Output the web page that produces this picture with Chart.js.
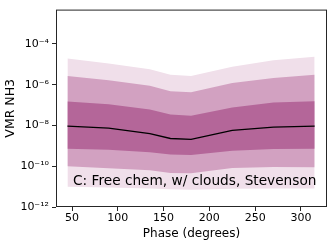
<!DOCTYPE html>
<html>
<head>
<meta charset="utf-8">
<script src="https://cdn.jsdelivr.net/npm/chart.js@4"></script>
<style>
  html, body { margin: 0; padding: 0; background: #fff; }
  #wrap { width: 332px; height: 243px; }
</style>
</head>
<body>
<div id="wrap"><canvas id="grafico"></canvas></div>
<script>
// fases (grados)
const phases = [45, 90, 135, 157.5, 180, 225, 270, 315];

// log10 del VMR
const median   = [-8.03, -8.13, -8.40, -8.64, -8.68, -8.24, -8.08, -8.03];
const in1Up    = [-6.83, -6.96, -7.22, -7.47, -7.52, -7.12, -6.88, -6.82];
const in1Low   = [-9.14, -9.19, -9.31, -9.43, -9.45, -9.24, -9.16, -9.14];
const mid2Up   = [-5.57, -5.79, -6.06, -6.32, -6.37, -5.92, -5.68, -5.52];
const mid2Low  = [-10.00, -10.10, -10.20, -10.33, -10.34, -10.09, -10.04, -10.05];
const out3Up   = [-4.72, -4.96, -5.25, -5.52, -5.57, -5.12, -4.80, -4.63];
const out3Low  = [-11.01, -11.04, -11.09, -11.13, -11.16, -11.11, -11.09, -11.09];

const yTicks = [-12, -10, -8, -6, -4];
const xTicks = [50, 100, 150, 200, 250, 300];
const label = 'C: Free chem, w/ clouds, Stevenson';

const FONT = 'DejaVu Sans';
const sup = { '-': '\u207B', '0': '\u2070', '1': '\u00B9', '2': '\u00B2', '3': '\u00B3', '4': '\u2074',
              '5': '\u2075', '6': '\u2076', '7': '\u2077', '8': '\u2078', '9': '\u2079' };

function pts(arr) {
    return phases.map((p, i) => ({ x: p, y: Math.pow(10, arr[i]) }));
}

function serie(arr, extra) {
    return Object.assign({
        data: pts(arr),
        borderWidth: 0,
        pointRadius: 0,
        tension: 0,
        fill: false
    }, extra);
}

// marco y texto
const marco = {
    id: 'marco',
    afterDraw(chart) {
        const a = chart.chartArea;
        const ctx = chart.ctx;
        ctx.save();
        ctx.strokeStyle = '#262626';
        ctx.lineWidth = 1;
        ctx.strokeRect(a.left + 0.5, a.top + 0.5, a.right - a.left - 1, a.bottom - a.top - 1);
        ctx.fillStyle = '#000';
        ctx.font = '13.7px "' + FONT + '"';
        ctx.textBaseline = 'alphabetic';
        ctx.fillText(label, a.left + 17, a.bottom - 22);
        ctx.restore();
    }
};

new Chart(document.getElementById('grafico'), {
    type: 'line',
    data: {
        datasets: [
            serie(median, { borderColor: '#000', borderWidth: 1.3 }),
            serie(in1Up, { fill: 2, backgroundColor: '#b46699' }),
            serie(in1Low),
            serie(mid2Up, { fill: 4, backgroundColor: '#d2a1c1' }),
            serie(mid2Low),
            serie(out3Up, { fill: 6, backgroundColor: '#f0dfea' }),
            serie(out3Low)
        ]
    },
    plugins: [marco],
    options: {
        responsive: true,
        maintainAspectRatio: false,
        animation: false,
        layout: { padding: { top: 5, right: 5, left: 0, bottom: 0 } },
        plugins: { legend: { display: false }, tooltip: { enabled: false } },
        scales: {
            x: {
                type: 'linear',
                min: 32.5,
                max: 328.5,
                afterBuildTicks: s => { s.ticks = xTicks.map(v => ({ value: v })); },
                afterFit: s => { s.height = 36; },
                grid: { drawOnChartArea: false, drawTicks: true, tickLength: 4, color: '#262626' },
                border: { display: false },
                ticks: { color: '#000', font: { family: FONT, size: 11 }, padding: 1, maxRotation: 0 },
                title: { display: true, text: 'Phase (degrees)', color: '#000',
                         font: { family: FONT, size: 12 }, padding: { top: 0, bottom: 2 } }
            },
            y: {
                type: 'logarithmic',
                min: 1e-12,
                max: Math.pow(10, -2.32),
                afterBuildTicks: s => { s.ticks = yTicks.map(e => ({ value: Math.pow(10, e) })); },
                afterFit: s => { s.width = 56; },
                grid: { drawOnChartArea: false, drawTicks: true, tickLength: 4, color: '#262626' },
                border: { display: false },
                ticks: {
                    color: '#000',
                    font: { family: FONT, size: 11 },
                    padding: 3,
                    callback: v => '10' + String(Math.round(Math.log10(v))).split('').map(c => sup[c]).join('')
                },
                title: { display: true, text: 'VMR NH3', color: '#000',
                         font: { family: FONT, size: 12.5 }, padding: { top: 3, bottom: 2 } }
            }
        }
    }
});
</script>
</body>
</html>
